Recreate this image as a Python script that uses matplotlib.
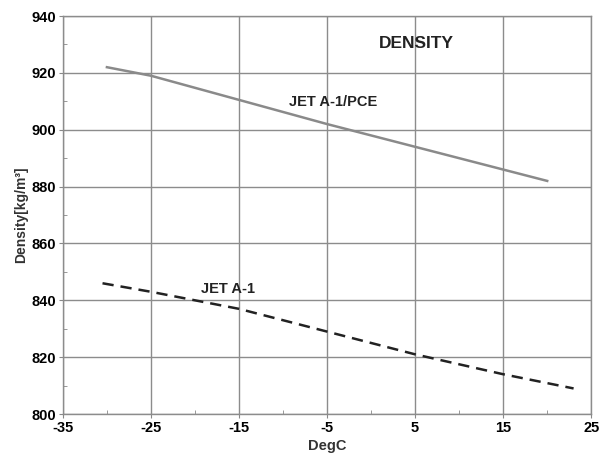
import matplotlib
matplotlib.use("Agg")
import matplotlib.pyplot as plt
from matplotlib.ticker import MultipleLocator

plt.rcParams['font.family'] = ['Liberation Sans', 'DejaVu Sans']

pce_x = [-30, -25, -15, -5, 5, 15, 20]
pce_y = [922, 919, 910.5, 902, 894, 886, 882]
jet_x = [-30.5, -25, -15, -5, 5, 15, 23]
jet_y = [846, 843, 837, 829, 821, 814, 809]
xticks = [-35, -25, -15, -5, 5, 15, 25]
yticks = [800, 820, 840, 860, 880, 900, 920, 940]

fig = plt.figure(figsize=(5.99, 4.58), dpi=100)
ax = fig.add_axes([0.105, 0.096, 0.882, 0.869])

ax.plot(pce_x, pce_y, color='#8a8a8a', lw=1.8)
ax.plot(jet_x, jet_y, color='#222222', lw=1.8, dashes=(4.5, 2.8))

ax.set_xlim(-35, 25)
ax.set_ylim(800, 940)
ax.set_xticks(xticks)
ax.set_yticks(yticks)
ax.set_xticklabels([str(v) for v in xticks], fontweight='bold', fontsize=10.5)
ax.set_yticklabels([str(v) for v in yticks], fontweight='bold', fontsize=10.5)
ax.xaxis.set_minor_locator(MultipleLocator(5))
ax.yaxis.set_minor_locator(MultipleLocator(10))
ax.tick_params(which='major', direction='out', length=3, color='#888888', pad=2)
ax.tick_params(which='minor', direction='in', length=3, color='#888888')
ax.grid(True, which='major', color='#8c8c8c', lw=1.0)
for s in ax.spines.values():
    s.set_color('#8c8c8c')
    s.set_linewidth(1.0)

ax.set_xlabel('DegC', fontsize=10.5, fontweight='bold', color='#333333', labelpad=3)
ax.set_ylabel('Density[kg/m³]', fontsize=10, fontweight='bold', color='#333333', labelpad=2)

ax.text(5.2, 930.5, 'DENSITY', fontsize=12.5, fontweight='bold', color='#222222', ha='center', va='center')
ax.text(-4.3, 909.7, 'JET A-1/PCE', fontsize=10.5, fontweight='bold', color='#222222', ha='center', va='center')
ax.text(-16.2, 844, 'JET A-1', fontsize=10.5, fontweight='bold', color='#222222', ha='center', va='center')

fig.savefig('out.png', dpi=100)
